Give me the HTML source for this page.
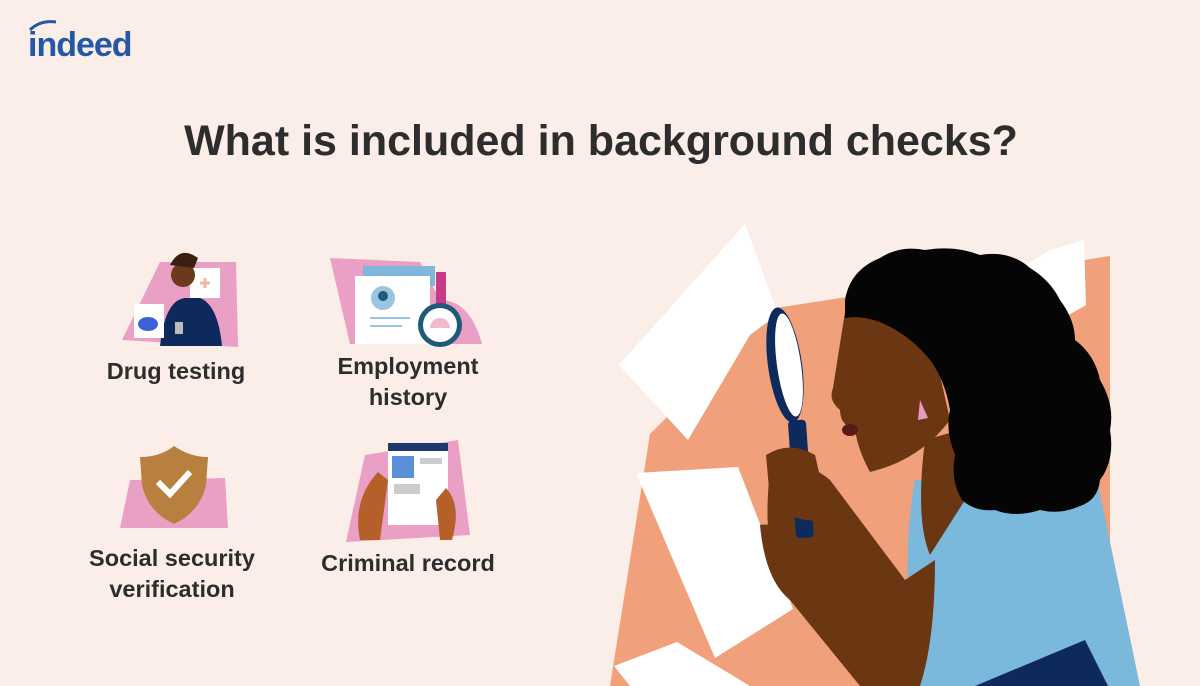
<!DOCTYPE html>
<html><head><meta charset="utf-8">
<style>
html,body{margin:0;padding:0;background:#fbeee8;}
svg{display:block;}
text{font-family:"Liberation Sans",sans-serif;font-weight:bold;fill:#2d2d2d;}
</style></head>
<body>
<svg width="1200" height="686" viewBox="0 0 1200 686">
<rect width="1200" height="686" fill="#fbeee8"/>
<g>
<text x="28" y="56" font-size="34" style="fill:#2557a7" letter-spacing="-1">indeed</text>
<path d="M30 30 Q40 20 56 22" stroke="#2557a7" stroke-width="3" fill="none"/>
</g>
<text x="601" y="155" font-size="43" text-anchor="middle">What is included in background checks?</text>

<g>
<polygon points="160,262 236,262 238,347 122,340" fill="#eaa0c4"/>
<rect x="190" y="268" width="30" height="30" fill="#fff"/>
<path d="M200 283 h10 M205 278 v10" stroke="#f2b8a0" stroke-width="3"/>
<path d="M160 346 Q165 300 185 298 L200 298 Q218 305 222 346 Z" fill="#0e2a5c"/>
<circle cx="183" cy="275" r="12" fill="#6b3a1c"/>
<path d="M170 265 Q180 245 198 258 L194 268 Z" fill="#3a2010"/>
<rect x="134" y="304" width="30" height="34" fill="#fff"/>
<ellipse cx="148" cy="324" rx="10" ry="7" fill="#3b62d8"/>
<rect x="175" y="322" width="8" height="12" fill="#bbb"/>
</g>
<text x="176" y="379" font-size="23.5" text-anchor="middle">Drug testing</text>

<g>
<path d="M330 258 L420 262 L440 300 Q470 300 482 344 L350 344 Z" fill="#eaa0c4"/>
<rect x="436" y="272" width="10" height="40" fill="#c83a8a"/>
<rect x="363" y="266" width="72" height="20" fill="#7fb6dc"/>
<rect x="355" y="276" width="75" height="68" fill="#fff"/>
<circle cx="383" cy="298" r="12" fill="#9cc4e0"/>
<circle cx="383" cy="296" r="5" fill="#1e5a7a"/>
<path d="M370 318 h40 M370 326 h32" stroke="#9cc4e0" stroke-width="2"/>
<circle cx="440" cy="325" r="22" fill="#1e5a7a"/>
<circle cx="440" cy="325" r="17" fill="#fff"/>
<path d="M430 328 a10 10 0 0 1 20 0" fill="#f2b8d0"/>
</g>
<text x="408" y="374" font-size="23.5" text-anchor="middle">Employment</text>
<text x="408" y="405" font-size="23.5" text-anchor="middle">history</text>

<g>
<polygon points="130,480 225,478 228,528 120,528" fill="#eaa0c4"/>
<path d="M140 457 Q160 457 174 446 Q190 457 208 457 L206 485 Q200 512 174 524 Q148 512 142 485 Z" fill="#b8803e"/>
<path d="M158 482 L170 494 L190 472" stroke="#fff" stroke-width="6" fill="none"/>
</g>
<text x="172" y="566" font-size="23.5" text-anchor="middle">Social security</text>
<text x="172" y="597" font-size="23.5" text-anchor="middle">verification</text>

<g>
<polygon points="365,455 458,440 470,535 346,542" fill="#eaa0c4"/>
<rect x="388" y="443" width="60" height="82" fill="#fff"/>
<rect x="388" y="443" width="60" height="8" fill="#1e3a6a"/>
<rect x="392" y="456" width="22" height="22" fill="#5b8fd8"/>
<rect x="394" y="484" width="26" height="10" fill="#ccc"/>
<rect x="420" y="458" width="22" height="6" fill="#ccc"/>
<path d="M360 540 Q352 500 378 472 L388 480 L380 540 Z" fill="#b5602a"/>
<path d="M452 540 Q462 505 446 488 L436 500 L440 540 Z" fill="#b5602a"/>
</g>
<text x="408" y="571" font-size="23.5" text-anchor="middle">Criminal record</text>

<g>
<polygon points="776,308 1110,256 1110,686 610,686 650,434" fill="#f0a07a"/>
<polygon points="1050,250 1084,240 1086,305 1060,320 1015,272" fill="#fff"/>
<polygon points="619,365 745,224 778,314 750,335 688,440" fill="#fff"/>
<polygon points="636,473 738,467 793,609 715,658" fill="#fff"/>
<polygon points="614,666 677,642 750,686 630,686" fill="#fff"/>
<path d="M915 480 L1095 470 L1140 686 L915 686 Q900 560 915 480 Z" fill="#7ab8dc"/>
<polygon points="975,686 1085,640 1108,686" fill="#0e2a5c"/>
<path d="M770 470 Q800 455 830 480 L905 580 L935 560 Q935 640 920 686 L860 686 L790 600 Q760 560 770 470 Z" fill="#6b3712"/>
<path d="M760 525 Q780 520 800 560 L790 600 Q765 580 760 525Z" fill="#6b3712"/>
<path d="M925 440 L960 430 L965 500 L930 555 Q915 520 925 440 Z" fill="#6b3712"/>
<path d="M845 312 Q880 300 930 330 L950 420 Q920 460 870 472 Q858 450 855 430 Q840 425 840 410 Q828 400 833 388 Z" fill="#6b3712"/>
<ellipse cx="850" cy="430" rx="8" ry="6" fill="#5a1a14"/>
<path d="M845 300 Q850 270 880 258 Q900 245 925 250 Q955 245 980 255 Q1010 250 1030 268 Q1050 280 1060 300 Q1075 320 1075 340 Q1095 355 1100 380 Q1115 405 1110 430 Q1115 460 1100 480 Q1098 500 1080 506 Q1060 515 1040 510 Q1015 518 995 510 Q975 512 962 500 Q950 480 955 455 Q945 430 950 410 Q945 380 930 360 Q910 335 880 322 Q860 315 845 318 Z" fill="#050505"/>
<ellipse cx="924" cy="390" rx="10" ry="16" fill="#6b3712"/>
<path d="M920 400 L928 418 L918 420 Z" fill="#e89ac0"/>
<ellipse cx="785" cy="365" rx="17" ry="58" fill="#0e2a5c" transform="rotate(-8 785 365)"/>
<ellipse cx="789" cy="365" rx="12" ry="52" fill="#fff" transform="rotate(-8 789 365)"/>
<rect x="792" y="420" width="18" height="118" rx="4" fill="#0e2a5c" transform="rotate(-4 801 480)"/>
<path d="M766 455 Q790 440 815 455 L830 520 Q790 525 770 500 Z" fill="#6b3712"/>
</g>
</svg>
</body></html>
